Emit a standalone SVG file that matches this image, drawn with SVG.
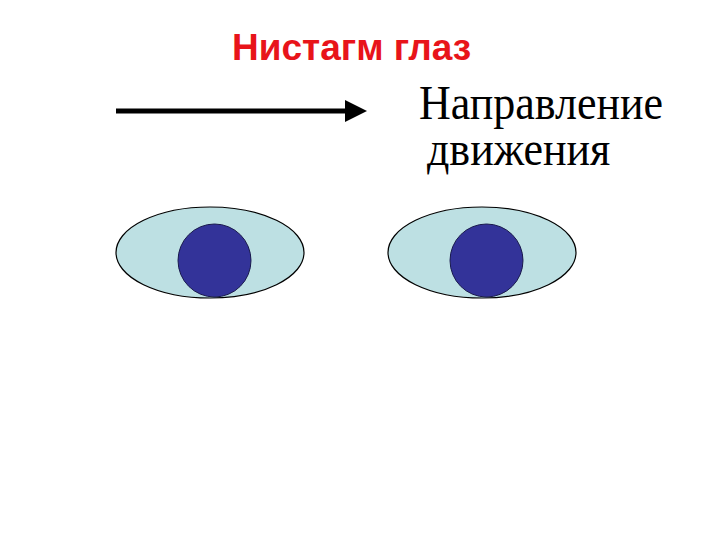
<svg xmlns="http://www.w3.org/2000/svg" width="720" height="540" viewBox="0 0 720 540">
<style>
.eye{fill:#bde0e3;stroke:#000;stroke-width:1.2}
.pupil{fill:#333399;stroke:#1a1a4d;stroke-width:1}
.title{font-family:"Liberation Sans",Arial,sans-serif;font-weight:bold;font-size:37px;fill:#e8141a}
.lbl{font-family:"Liberation Serif","Times New Roman",serif;font-size:44px;fill:#000}
</style>
<rect width="720" height="540" fill="#fff"/>
<g id="title"><text class="title" x="232" y="60">Нистагм глаз</text></g>
<g id="label">
<text class="lbl" transform="translate(419,119) scale(1,1.08)"><tspan x="0" y="0">Направление</tspan><tspan x="8" y="43">движения</tspan></text>
</g>
<g id="connectors">
<line x1="116" y1="111" x2="346" y2="111" stroke="#000" stroke-width="5"/>
<path d="M345,100 L367,111 L345,122 Z" fill="#000"/>
</g>
<g id="eye-left"><ellipse class="eye" cx="210" cy="252.5" rx="94" ry="45.5"/><circle class="pupil" cx="214.5" cy="260.5" r="36.5"/></g>
<g id="eye-right"><ellipse class="eye" cx="482" cy="252.5" rx="94" ry="45.5"/><circle class="pupil" cx="486.5" cy="260.5" r="36.5"/></g>
</svg>
